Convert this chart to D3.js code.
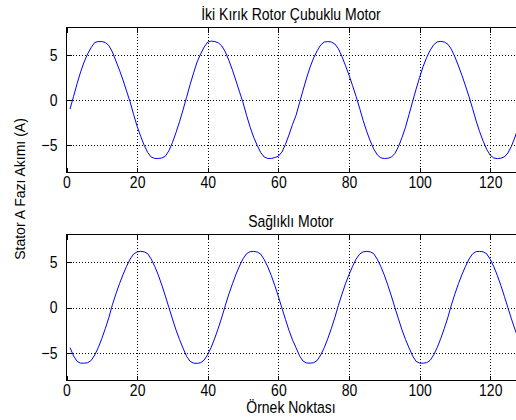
<!DOCTYPE html>
<html>
<head>
<meta charset="utf-8">
<script src="https://cdn.jsdelivr.net/npm/d3@7"></script>
<style>
  body { margin: 0; background: #fff; }
  text { font-family: "Liberation Sans", Arial, sans-serif; fill: #000; }
  .stretch { transform-box: fill-box; transform-origin: center; transform: scaleY(1.18); }
</style>
</head>
<body>
<div id="chart"></div>
<script>
// data
var titles = ["İki Kırık Rotor Çubuklu Motor", "Sağlıklı Motor"];
var xLabel = "Örnek Noktası";
var yLabel = "Stator A Fazı Akımı (A)";
var xTicks = [0, 20, 40, 60, 80, 100, 120];
var yTicks = [-5, 0, 5];

var brokenBar = [
  -1.0, 0.4, 1.8, 3.1, 4.2, 5.1, 5.8, 6.35, 6.45, 6.45, 6.35, 6.0, 5.3, 4.3, 3.3, 2.2,
  1.0, -0.2, -1.6, -2.9, -4.0, -5.0, -5.8, -6.3, -6.45, -6.45, -6.4, -6.2, -5.6, -4.7, -3.6, -2.4,
  -1.1, 0.3, 1.7, 3.0, 4.2, 5.1, 5.85, 6.4, 6.5, 6.45, 6.3, 5.95, 5.3, 4.35, 3.3, 2.1,
  0.9, -0.3, -1.7, -3.0, -4.1, -5.0, -5.8, -6.3, -6.45, -6.45, -6.35, -6.2, -5.75, -4.9, -3.85, -2.7,
  -1.7, -0.3, 1.1, 2.45, 3.65, 4.65, 5.45, 6.08, 6.4, 6.45, 6.4, 6.18, 5.65, 4.8, 3.8, 2.75,
  1.6, 0.4, -0.9, -2.25, -3.45, -4.5, -5.4, -6.05, -6.38, -6.45, -6.43, -6.3, -5.9, -5.15, -4.15, -3.0,
  -1.6, -0.2, 1.2, 2.5, 3.7, 4.7, 5.5, 6.1, 6.42, 6.47, 6.4, 6.15, 5.6, 4.75, 3.75, 2.7,
  1.55, 0.35, -0.95, -2.3, -3.5, -4.55, -5.45, -6.1, -6.4, -6.46, -6.42, -6.28, -5.85, -5.1, -4.1, -2.95
];

var healthy = [
  -4.4, -5.3, -5.9, -6.1, -6.1, -6.05, -5.8, -5.2, -4.4, -3.4, -2.3, -1.1, 0.3, 1.5, 2.6, 3.6,
  4.5, 5.3, 5.85, 6.1, 6.15, 6.1, 5.9, 5.3, 4.5, 3.55, 2.45, 1.25, 0.0, -1.25, -2.45, -3.5,
  -4.45, -5.35, -5.9, -6.1, -6.12, -6.05, -5.75, -5.15, -4.35, -3.35, -2.25, -1.05, 0.25, 1.5, 2.6, 3.65,
  4.55, 5.35, 5.9, 6.12, 6.15, 6.08, 5.85, 5.25, 4.45, 3.5, 2.4, 1.2, -0.05, -1.3, -2.5, -3.55,
  -4.4, -5.3, -5.88, -6.08, -6.1, -6.05, -5.8, -5.2, -4.4, -3.4, -2.3, -1.1, 0.25, 1.45, 2.6, 3.6,
  4.5, 5.3, 5.85, 6.1, 6.15, 6.1, 5.9, 5.3, 4.5, 3.55, 2.45, 1.25, 0.0, -1.25, -2.45, -3.5,
  -4.42, -5.3, -5.9, -6.1, -6.1, -6.05, -5.78, -5.18, -4.38, -3.38, -2.28, -1.08, 0.28, 1.5, 2.62, 3.62,
  4.52, 5.32, 5.88, 6.12, 6.15, 6.1, 5.88, 5.28, 4.48, 3.52, 2.42, 1.22, -0.02, -1.25, -2.4, -3.45
];

var series = [brokenBar, healthy];

var svgWidth = 516;
var svgHeight = 420;

// axes boxes (the right edge runs just past the window, as in the picture)
var left = 66.5, right = 518.5;
var panels = [
  { top: 27.5, bottom: 172.5 },
  { top: 234.5, bottom: 380.5 }
];

var svg = d3.select("#chart")
  .append("svg")
  .attr("width", svgWidth)
  .attr("height", svgHeight);

var xScale = d3.scaleLinear()
  .domain([0, 128])
  .range([left, right]);

panels.forEach(function(p, k) {
  var yScale = d3.scaleLinear()
    .domain([-8, 8])
    .range([p.bottom, p.top]);

  var g = svg.append("g");

  // dotted grid
  g.append("g")
    .attr("transform", `translate(0, ${p.bottom})`)
    .call(d3.axisBottom(xScale).tickValues(xTicks.slice(1)).tickSize(-(p.bottom - p.top)).tickFormat(""))
    .call(a => a.select(".domain").remove())
    .selectAll("line")
    .attr("stroke", "#000")
    .attr("stroke-dasharray", "1,2")
    .attr("shape-rendering", "crispEdges");

  g.append("g")
    .attr("transform", `translate(${left}, 0)`)
    .call(d3.axisLeft(yScale).tickValues(yTicks).tickSize(-(right - left)).tickFormat(""))
    .call(a => a.select(".domain").remove())
    .selectAll("line")
    .attr("stroke", "#000")
    .attr("stroke-dasharray", "1,2")
    .attr("shape-rendering", "crispEdges");

  // the signal
  var line = d3.line()
    .x((d, i) => xScale(i + 1))
    .y(d => yScale(d));

  g.append("path")
    .datum(series[k])
    .attr("fill", "none")
    .attr("stroke", "#0000ff")
    .attr("stroke-width", 1)
    .attr("d", line);

  // box
  g.append("rect")
    .attr("x", left)
    .attr("y", p.top)
    .attr("width", right - left)
    .attr("height", p.bottom - p.top)
    .attr("fill", "none")
    .attr("stroke", "#000")
    .attr("shape-rendering", "crispEdges");

  // inner ticks with labels
  var bottomAxis = g.append("g")
    .attr("transform", `translate(0, ${p.bottom})`)
    .call(d3.axisBottom(xScale).tickValues(xTicks).tickSizeInner(-5).tickSizeOuter(0).tickPadding(5));
  var topAxis = g.append("g")
    .attr("transform", `translate(0, ${p.top})`)
    .call(d3.axisTop(xScale).tickValues(xTicks).tickSizeInner(-5).tickSizeOuter(0).tickFormat(""));
  var leftAxis = g.append("g")
    .attr("transform", `translate(${left}, 0)`)
    .call(d3.axisLeft(yScale).tickValues(yTicks).tickSizeInner(-5).tickSizeOuter(0).tickPadding(9));

  [bottomAxis, topAxis, leftAxis].forEach(function(a) {
    a.select(".domain").remove();
    a.selectAll("line").attr("stroke", "#000").attr("shape-rendering", "crispEdges");
    a.selectAll("text")
      .attr("font-size", "14px")
      .attr("font-family", "Liberation Sans, Arial, sans-serif")
      .attr("fill", "#000")
      .classed("stretch", true);
  });

  // title
  g.append("text")
    .attr("x", (left + right) / 2 - 1.5)
    .attr("y", p.top - 8)
    .attr("text-anchor", "middle")
    .attr("font-size", "14px")
    .classed("stretch", true)
    .text(titles[k]);
});

// x axis label
svg.append("text")
  .attr("x", 291)
  .attr("y", 412)
  .attr("text-anchor", "middle")
  .attr("font-size", "14px")
  .classed("stretch", true)
  .text(xLabel);

// y axis label
svg.append("text")
  .attr("transform", "rotate(-90)")
  .attr("x", -189)
  .attr("y", 25)
  .attr("text-anchor", "middle")
  .attr("font-size", "14px")
  .text(yLabel);
</script>
</body>
</html>
